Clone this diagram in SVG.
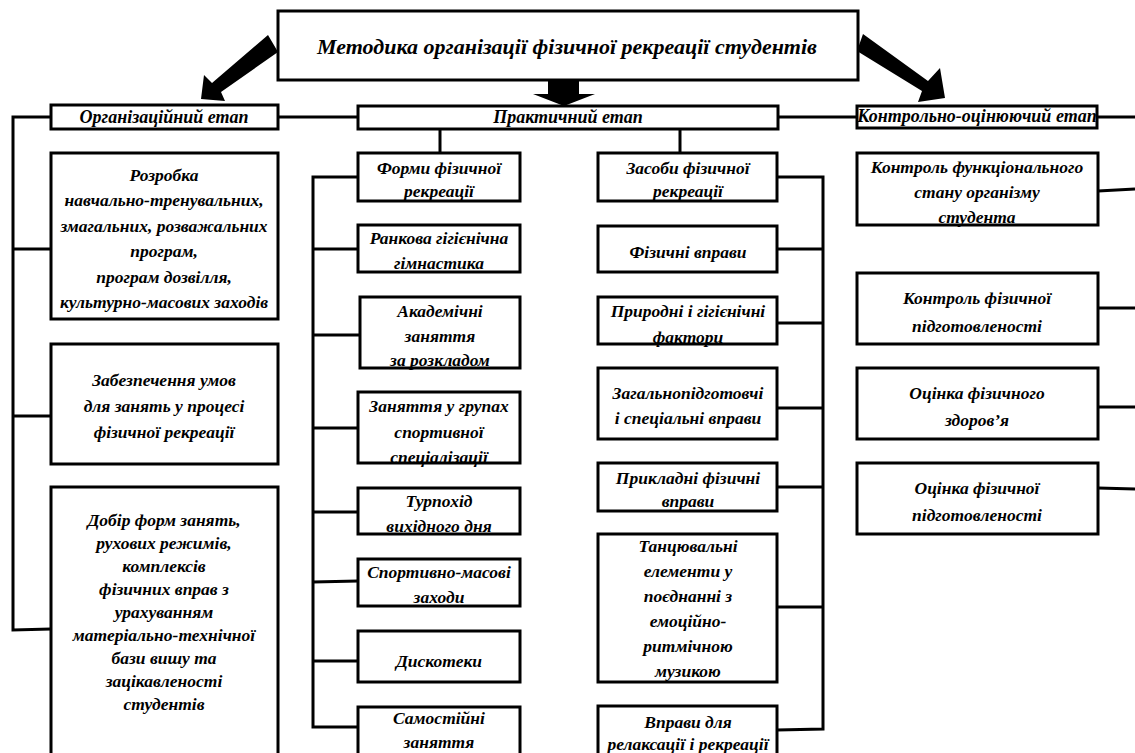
<svg xmlns="http://www.w3.org/2000/svg" width="1135" height="753" viewBox="0 0 1135 753">
<style>
.b{fill:#fff;stroke:#000;stroke-width:3}
.t{font-family:"Liberation Serif","Times New Roman",serif;font-weight:bold;font-style:italic;font-size:17.5px;text-anchor:middle;fill:#000}
.tt{font-size:22px}
.ts{font-size:18px}
.c{fill:none;stroke:#000;stroke-width:3}
.a{fill:#000}
</style>
<rect width="1135" height="753" fill="#fff"/>
<g id="connectors">
<polyline class="c" points="51,117 13,117 13,630 51,629"/>
<line class="c" x1="13" y1="249" x2="51" y2="249"/>
<line class="c" x1="13" y1="416" x2="53" y2="416"/>
<line class="c" x1="278" y1="117" x2="358" y2="117"/>
<line class="c" x1="778" y1="117" x2="857" y2="117"/>
<line class="c" x1="1097" y1="117" x2="1135" y2="117"/>
<line class="c" x1="440" y1="129" x2="440" y2="153"/>
<line class="c" x1="680" y1="129" x2="680" y2="153"/>
<polyline class="c" points="358,177 313,177 313,727 358,727"/>
<line class="c" x1="313" y1="249" x2="358" y2="249"/>
<line class="c" x1="313" y1="335" x2="360" y2="335"/>
<line class="c" x1="313" y1="428" x2="358" y2="428"/>
<line class="c" x1="313" y1="512" x2="358" y2="512"/>
<line class="c" x1="313" y1="582" x2="358" y2="581"/>
<line class="c" x1="313" y1="661" x2="358" y2="661"/>
<polyline class="c" points="777,177 823,177 823,729 777,730"/>
<line class="c" x1="777" y1="249" x2="823" y2="249"/>
<line class="c" x1="777" y1="323" x2="823" y2="323"/>
<line class="c" x1="777" y1="408" x2="823" y2="408"/>
<line class="c" x1="777" y1="487" x2="823" y2="487"/>
<line class="c" x1="777" y1="607" x2="823" y2="607"/>
<line class="c" x1="1098" y1="191" x2="1135" y2="189"/>
<line class="c" x1="1098" y1="308" x2="1135" y2="308"/>
<line class="c" x1="1098" y1="407" x2="1135" y2="407"/>
<line class="c" x1="1098" y1="488" x2="1135" y2="489"/>
<polygon class="a" points="268,35 278,52 221,92 225,101 201,99 204,75 212,83"/>
<polygon class="a" points="863,34 928,81 940,68 945,98 918,102 922,91 857,51"/>
<polygon class="a" points="548,80 579,80 579,94 595,94 564,106 533,94 548,94"/>
</g>
<g id="title"><rect class="b" x="278" y="11" width="580" height="69"/><text class="t tt" x="567" y="54">Методика організації фізичної рекреації студентів</text></g>
<g id="org"><rect class="b" x="51" y="105" width="227" height="24"/><text class="t ts" x="164" y="123">Організаційний етап</text></g>
<g id="prac"><rect class="b" x="358" y="106" width="420" height="23"/><text class="t ts" x="568" y="123">Практичний етап</text></g>
<g id="ctrl"><rect class="b" x="857" y="106" width="240" height="22"/><text class="t ts" x="977" y="122">Контрольно-оцінюючий етап</text></g>
<g id="org1"><rect class="b" x="51" y="153" width="227" height="166"/><text class="t" x="164" y="181">Розробка<tspan x="164" y="206">навчально-тренувальних,</tspan><tspan x="164" y="231.5">змагальних, розважальних</tspan><tspan x="164" y="257">програм,</tspan><tspan x="164" y="282.5">програм дозвілля,</tspan><tspan x="164" y="308">культурно-масових заходів</tspan></text></g>
<g id="org2"><rect class="b" x="51" y="344" width="227" height="120"/><text class="t" x="164" y="386">Забезпечення умов<tspan x="164" y="412">для занять у процесі</tspan><tspan x="164" y="438">фізичної рекреації</tspan></text></g>
<g id="org3"><rect class="b" x="51" y="487" width="227" height="280"/><text class="t" x="164" y="526">Добір форм занять,<tspan x="164" y="549">рухових режимів,</tspan><tspan x="164" y="572">комплексів</tspan><tspan x="164" y="595">фізичних вправ з</tspan><tspan x="164" y="618">урахуванням</tspan><tspan x="164" y="641">матеріально-технічної</tspan><tspan x="164" y="664">бази вишу та</tspan><tspan x="164" y="687">зацікавленості</tspan><tspan x="164" y="710">студентів</tspan></text></g>
<g id="forms"><rect class="b" x="358" y="153" width="162" height="48"/><text class="t" x="439" y="174">Форми фізичної<tspan x="439" y="197">рекреації</tspan></text></g>
<g id="f1"><rect class="b" x="358" y="225" width="162" height="47"/><text class="t" x="439" y="244">Ранкова гігієнічна<tspan x="439" y="269">гімнастика</tspan></text></g>
<g id="f2"><rect class="b" x="360" y="297" width="160" height="71"/><text class="t" x="440" y="317">Академічні<tspan x="440" y="342">заняття</tspan><tspan x="440" y="366">за розкладом</tspan></text></g>
<g id="f3"><rect class="b" x="358" y="392" width="162" height="71"/><text class="t" x="439" y="412">Заняття у групах<tspan x="439" y="438">спортивної</tspan><tspan x="439" y="463">спеціалізації</tspan></text></g>
<g id="f4"><rect class="b" x="358" y="488" width="162" height="46"/><text class="t" x="439" y="507">Турпохід<tspan x="439" y="532">вихідного дня</tspan></text></g>
<g id="f5"><rect class="b" x="358" y="559" width="162" height="47"/><text class="t" x="439" y="578">Спортивно-масові<tspan x="439" y="603">заходи</tspan></text></g>
<g id="f6"><rect class="b" x="358" y="631" width="162" height="51"/><text class="t" x="439" y="667">Дискотеки</text></g>
<g id="f7"><rect class="b" x="358" y="707" width="162" height="60"/><text class="t" x="439" y="724">Самостійні<tspan x="439" y="748">заняття</tspan></text></g>
<g id="means"><rect class="b" x="598" y="153" width="179" height="48"/><text class="t" x="688" y="174">Засоби фізичної<tspan x="688" y="197">рекреації</tspan></text></g>
<g id="m1"><rect class="b" x="598" y="226" width="179" height="46"/><text class="t" x="688" y="258">Фізичні вправи</text></g>
<g id="m2"><rect class="b" x="598" y="297" width="179" height="47"/><text class="t" x="688" y="317">Природні і гігієнічні<tspan x="688" y="343">фактори</tspan></text></g>
<g id="m3"><rect class="b" x="598" y="368" width="179" height="71"/><text class="t" x="688" y="399">Загальнопідготовчі<tspan x="688" y="424">і спеціальні вправи</tspan></text></g>
<g id="m4"><rect class="b" x="598" y="463" width="179" height="48"/><text class="t" x="688" y="484">Прикладні фізичні<tspan x="688" y="507">вправи</tspan></text></g>
<g id="m5"><rect class="b" x="598" y="534" width="179" height="148"/><text class="t" x="688" y="552">Танцювальні<tspan x="688" y="577">елементи у</tspan><tspan x="688" y="602">поєднанні з</tspan><tspan x="688" y="627">емоційно-</tspan><tspan x="688" y="652">ритмічною</tspan><tspan x="688" y="677">музикою</tspan></text></g>
<g id="m6"><rect class="b" x="598" y="706" width="179" height="60"/><text class="t" x="688" y="728">Вправи для<tspan x="688" y="750">релаксації і рекреації</tspan></text></g>
<g id="c1"><rect class="b" x="857" y="153" width="241" height="72"/><text class="t" x="977" y="173">Контроль функціонального<tspan x="977" y="198">стану організму</tspan><tspan x="977" y="223">студента</tspan></text></g>
<g id="c2"><rect class="b" x="857" y="273" width="241" height="71"/><text class="t" x="977" y="304">Контроль фізичної<tspan x="977" y="332">підготовленості</tspan></text></g>
<g id="c3"><rect class="b" x="857" y="368" width="241" height="71"/><text class="t" x="977" y="399">Оцінка фізичного<tspan x="977" y="426">здоров’я</tspan></text></g>
<g id="c4"><rect class="b" x="857" y="463" width="241" height="71"/><text class="t" x="977" y="494">Оцінка фізичної<tspan x="977" y="521">підготовленості</tspan></text></g>
</svg>
